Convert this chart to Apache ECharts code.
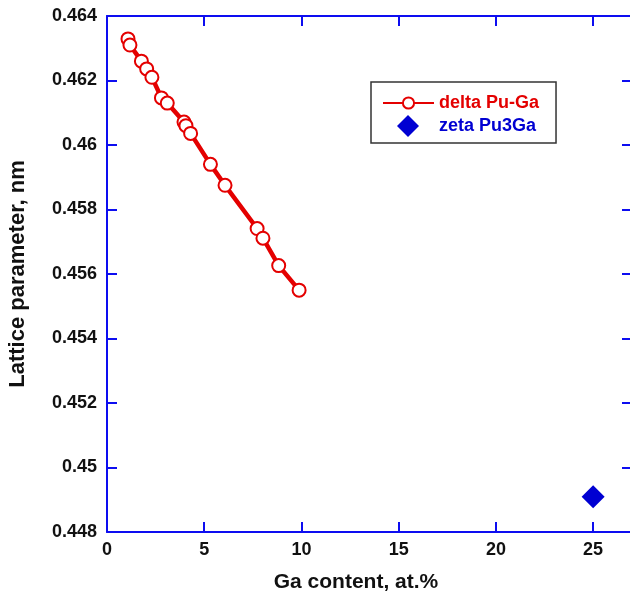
<!DOCTYPE html>
<html>
<head>
<meta charset="utf-8">
<script src="https://cdn.jsdelivr.net/npm/echarts@6/dist/echarts.min.js"></script>
<style>
  html, body { margin: 0; padding: 0; background: #fff; }
  #chart { width: 630px; height: 600px; }
</style>
</head>
<body>
<div id="chart"></div>
<script>
// Lattice parameter of delta-phase Pu-Ga alloys vs Ga content
const deltaGa = [1.08, 1.18, 1.77, 2.04, 2.31, 2.80, 3.10, 3.96, 4.06, 4.30, 5.32, 6.07, 7.72, 8.02, 8.83, 9.88];
const deltaLattice = [0.46329, 0.46310, 0.46260, 0.46236, 0.46210, 0.46146, 0.46130, 0.46071, 0.46060, 0.46036, 0.45940, 0.45875, 0.45741, 0.45711, 0.45626, 0.45550];

// Ordered zeta Pu3Ga compound
const zetaGa = [25];
const zetaLattice = [0.44909];

const seriesNames = ['delta Pu-Ga', 'zeta Pu3Ga'];
const xTitle = 'Ga content, at.%';
const yTitle = 'Lattice parameter, nm';

const RED = '#e40000';
const BLUE = '#0000d2';
const AXIS_BLUE = '#0d0df0';
const FONT = '"Liberation Sans", Arial, sans-serif';

const pairs = (xs, ys) => xs.map((x, i) => [x, ys[i]]);

const axisLineStyle = { lineStyle: { color: AXIS_BLUE, width: 2 } };
const tickStyle = { inside: true, length: 10, lineStyle: { color: AXIS_BLUE, width: 2 } };
const labelStyle = { color: '#111', fontFamily: FONT, fontWeight: 'bold', fontSize: 18 };

const xBase = { type: 'value', min: 0, max: 27, interval: 5, splitLine: { show: false },
  axisLine: Object.assign({ onZero: false }, axisLineStyle), axisTick: tickStyle };
const yBase = { type: 'value', min: 0.448, max: 0.464, interval: 0.002, splitLine: { show: false },
  axisLine: Object.assign({ onZero: false }, axisLineStyle), axisTick: tickStyle };

const chart = echarts.init(document.getElementById('chart'), null, { renderer: 'canvas' });
chart.setOption({
  animation: false,
  backgroundColor: '#fff',
  grid: { left: 107, top: 16, right: -2, bottom: 68, containLabel: false, outerBoundsMode: 'none' },
  xAxis: [
    Object.assign({}, xBase, {
      position: 'bottom',
      axisLabel: Object.assign({ margin: 9, showMaxLabel: false }, labelStyle),
      name: xTitle, nameLocation: 'middle', nameGap: 40,
      nameTextStyle: { color: '#111', fontFamily: FONT, fontWeight: 'bold', fontSize: 21, padding: [0, 27, 0, 0] }
    }),
    Object.assign({}, xBase, { position: 'top', axisLabel: { show: false } })
  ],
  yAxis: [
    Object.assign({}, yBase, {
      position: 'left',
      axisLabel: Object.assign({ margin: 10 }, labelStyle),
      name: yTitle, nameLocation: 'middle', nameGap: 78,
      nameTextStyle: { color: '#111', fontFamily: FONT, fontWeight: 'bold', fontSize: 22 }
    }),
    Object.assign({}, yBase, { position: 'right', axisLabel: { show: false } })
  ],
  legend: [
    {
      data: [seriesNames[0]],
      orient: 'vertical', left: 371, top: 82,
      padding: [12, 17, 31, 11],
      borderColor: '#333', borderWidth: 1.5, backgroundColor: '#fff',
      itemWidth: 51, itemHeight: 14, itemGap: 5,
      textStyle: { color: RED, fontFamily: FONT, fontWeight: 'bold', fontSize: 18, lineHeight: 18 }
    },
    {
      data: [{ name: seriesNames[1], icon: 'diamond' }],
      orient: 'vertical', left: 397, top: 115, padding: 0, z: 10,
      itemWidth: 22, itemHeight: 22,
      textStyle: { color: BLUE, fontFamily: FONT, fontWeight: 'bold', fontSize: 18, lineHeight: 22, padding: [0, 0, 0, 15] }
    }
  ],
  series: [
    {
      name: seriesNames[0],
      type: 'line',
      data: pairs(deltaGa, deltaLattice),
      symbol: 'emptyCircle', symbolSize: 13,
      lineStyle: { color: RED, width: 4.5 },
      itemStyle: { color: RED, borderWidth: 1.5 },
      z: 3
    },
    {
      name: seriesNames[1],
      type: 'scatter',
      data: pairs(zetaGa, zetaLattice),
      symbol: 'diamond', symbolSize: 23,
      itemStyle: { color: BLUE, opacity: 1 }
    }
  ]
});
</script>
</body>
</html>
